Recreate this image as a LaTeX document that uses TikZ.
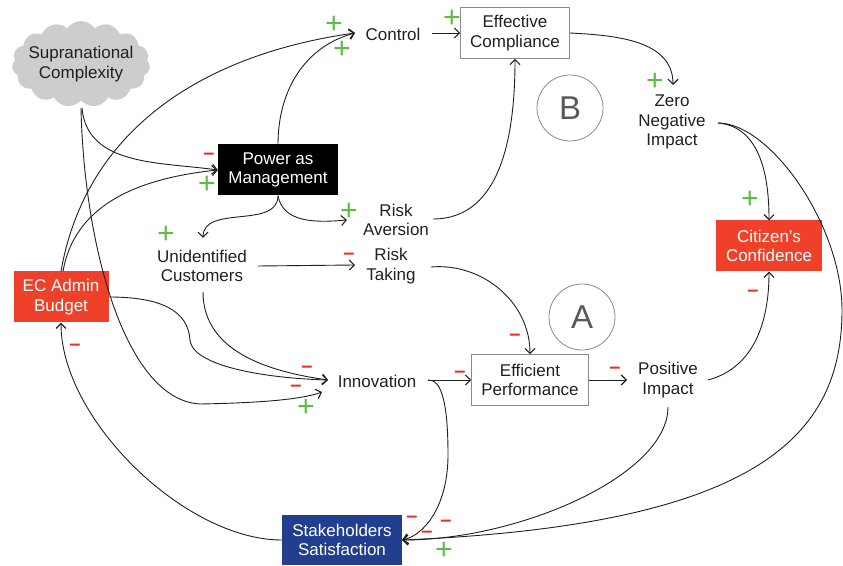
\documentclass[tikz,border=0pt]{standalone}
\usepackage{fontspec}
\setmainfont{Liberation Sans}
\usetikzlibrary{arrows.meta,shapes.symbols}
\definecolor{txt}{HTML}{231F20}
\definecolor{redbox}{HTML}{EF4129}
\definecolor{bluebox}{HTML}{223F8F}
\definecolor{plusgreen}{HTML}{5DBB46}
\definecolor{minusred}{HTML}{EE2A24}
\definecolor{cloudgray}{HTML}{CCCDCD}
\definecolor{boxgray}{HTML}{8A8A8A}
\begin{document}
\begin{tikzpicture}[x=1pt,y=1pt,
  every node/.style={text=txt, font=\fontsize{17}{19.5}\selectfont, align=center},
  lbl/.style={inner sep=0pt},
  wbox/.style={draw=boxgray, fill=white, line width=0.8pt, minimum width=#1, minimum height=51pt, inner sep=0pt},
  cbox/.style={fill=#1, text=white, minimum height=51pt, inner sep=0pt},
  loopc/.style={draw=boxgray, circle, line width=0.8pt, minimum size=66pt, inner sep=0pt, text=black!65, font=\fontsize{33}{33}\selectfont},
  conn/.style={draw=txt, line width=0.9pt, -{Straight Barb[length=5pt,width=10pt,line width=1.1pt]}},
  plusl/.style={text=plusgreen, font=\fontsize{30}{30}\selectfont, inner sep=0pt},
  minusl/.style={text=minusred, font=\bfseries\fontsize{20}{20}\selectfont, inner sep=0pt},
]
\useasboundingbox (0,0) rectangle (843,565);

% nodes
\node[cloud, cloud puffs=15, cloud puff arc=110, aspect=1.6, fill=cloudgray, minimum width=138pt, minimum height=86pt, inner xsep=-12pt, inner ysep=-8pt] (cloud) at (81,501) {Supranational\\Complexity};
\node[lbl] (control) at (393,531) {Control};
\node[wbox=109pt] (ec) at (515,532) {Effective\\Compliance};
\node[loopc] (B) at (570,457) {B};
\node[lbl] (zni) at (672,443) {Zero\\Negative\\Impact};
\node[cbox=redbox, minimum width=106pt] (cit) at (769,319) {Citizen’s\\Confidence};
\node[cbox=black, minimum width=120pt] (pam) at (278,395) {Power as\\Management};
\node[lbl] (ra) at (396,345) {Risk\\Aversion};
\node[lbl] (uc) at (202,299) {Unidentified\\Customers};
\node[lbl] (rt) at (391,299) {Risk\\Taking};
\node[cbox=redbox, minimum width=95pt] (eca) at (61,268) {EC Admin\\Budget};
\node[loopc] (A) at (582,248) {A};
\node[lbl] (inn) at (377,184) {Innovation};
\node[wbox=117pt] (ep) at (530,185) {Efficient\\Performance};
\node[lbl] (pi) at (668,185) {Positive\\Impact};
\node[cbox=bluebox, minimum width=120pt, minimum height=50pt] (ss) at (342,25) {Stakeholders\\Satisfaction};

% connectors
\draw[conn] (eca.north) to[out=80,in=188] ([shift={(-38,1)}]control.center);
\draw[conn] ([xshift=2pt]eca.north) to[out=80,in=186] (pam.west);
\draw[conn] ([shift={(1,-44)}]cloud.center) to[out=-85,in=172] (pam.west);
\draw[conn] ([shift={(0,-44)}]cloud.center) .. controls (84,320) and (125,165) .. (200,161) .. controls (255,162) and (300,165) .. ([shift={(-55,-11)}]inn.center);
\draw[conn] (eca.east) .. controls (160,268) and (188,255) .. (190,225) .. controls (192,200) and (260,187) .. ([shift={(-49,1)}]inn.center);
\draw[conn] ([shift={(1,-26)}]uc.center) to[out=-90,in=172] ([shift={(-49,1)}]inn.center);
\draw[conn] (pam.north) to[out=90,in=195] ([shift={(-38,1)}]control.center);
\draw[conn] (pam.south) to[out=-90,in=90] ([shift={(1,28)}]uc.center);
\draw[conn] (pam.south) to[out=-80,in=185] ([shift={(-49,0)}]ra.center);
\draw[conn] ([shift={(39,1)}]control.center) -- (ec.west);
\draw[conn] ([shift={(37,1)}]ra.center) to[out=0,in=-90] (ec.south);
\draw[conn] (ec.east) to[out=-3,in=90] ([shift={(1,37)}]zni.center);
\draw[conn] ([shift={(46,-1)}]zni.center) to[out=-5,in=90] (cit.north);
\draw[conn] ([shift={(46,-1)}]zni.center) .. controls (770,442) and (842,340) .. (842,255) .. controls (842,130) and (760,40) .. (ss.east);
\draw[conn] ([shift={(56,0)}]uc.center) -- ([shift={(-36,1)}]rt.center);
\draw[conn] ([shift={(40,-1)}]rt.center) to[out=5,in=90] (ep.north);
\draw[conn] ([shift={(51,1)}]inn.center) -- (ep.west);
\draw[conn] ([shift={(51,1)}]inn.center) .. controls (442,186) and (448,160) .. (448,110) .. controls (448,60) and (425,30) .. (ss.east);
\draw[conn] (ep.east) -- ([shift={(-41,0)}]pi.center);
\draw[conn] ([shift={(40,0)}]pi.center) to[out=15,in=-90] (cit.south);
\draw[conn] ([shift={(0,-27)}]pi.center) .. controls (668,90) and (520,25) .. (ss.east);
\draw[conn] (ss.west) to[out=180,in=-90,looseness=0.8] (eca.south);

% polarities
\node[plusl] (p1) at (334,540) {+};
\node[plusl] (p2) at (342,515) {+};
\node[plusl] (p3) at (452,546) {+};
\node[plusl] (p4) at (655,483) {+};
\node[plusl] (p5) at (750,365) {+};
\node[minusl] (m1) at (753,272) {–};
\node[minusl] (m2) at (209,409) {–};
\node[plusl] (p6) at (207,380) {+};
\node[plusl] (p7) at (349,353) {+};
\node[plusl] (p8) at (166,330) {+};
\node[minusl] (m3) at (349,309) {–};
\node[minusl] (m4) at (515,228) {–};
\node[minusl] (m5) at (460,191) {–};
\node[minusl] (m6) at (615,195) {–};
\node[minusl] (m7) at (307,196) {–};
\node[minusl] (m8) at (296,177) {–};
\node[plusl] (p9) at (306,157) {+};
\node[minusl] (m9) at (75,218) {–};
\node[minusl] (m10) at (412,46) {–};
\node[minusl] (m11) at (427,31) {–};
\node[minusl] (m12) at (446,42) {–};
\node[plusl] (p10) at (444,14) {+};
\end{tikzpicture}
\end{document}
